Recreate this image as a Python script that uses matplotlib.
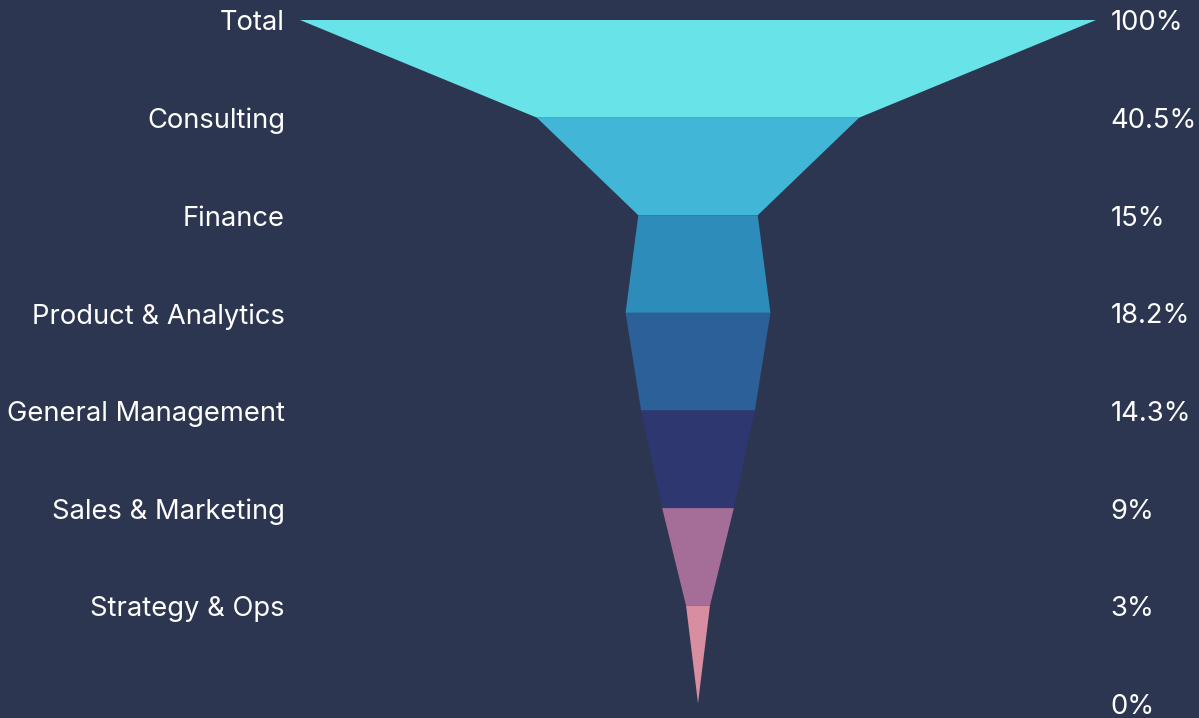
import matplotlib.pyplot as plt

# funnel data
stages = ['Total', 'Consulting', 'Finance', 'Product & Analytics',
          'General Management', 'Sales & Marketing', 'Strategy & Ops']
values = [100, 40.5, 15, 18.2, 14.3, 9, 3, 0]
value_labels = ['100%', '40.5%', '15%', '18.2%', '14.3%', '9%', '3%', '0%']
colors = ['#68E4E8', '#42B6D6', '#2E8CBB', '#2C6098', '#2F3770', '#A56E98', '#D98DA0']

bg = '#2C3651'
plt.rcParams['font.family'] = ['Inter', 'DejaVu Sans']

fig = plt.figure(figsize=(11.99, 7.18), dpi=100, facecolor=bg)
ax = fig.add_axes([0, 0, 1, 1])
ax.set_facecolor(bg)

# each segment goes from the width of one level to the next
for i in range(len(stages)):
    top = values[i] / 2
    bot = values[i + 1] / 2
    ax.fill([-top, top, bot, -bot], [i, i, i + 1, i + 1],
            color=colors[i], linewidth=0)

# small nudge so the text sits on the level line like the original
dy = 0.035
for i, name in enumerate(stages):
    ax.text(-51.9, i + dy, name, ha='right', va='center', color='white', fontsize=19.7)

for i, lab in enumerate(value_labels):
    ax.text(51.8, i + dy, lab, ha='left', va='center', color='white', fontsize=19.7)

ax.set_xlim(-87.69, 62.94)
ax.set_ylim(7.15, -0.205)
ax.axis('off')

fig.savefig('out.png', dpi=100, facecolor=bg)
